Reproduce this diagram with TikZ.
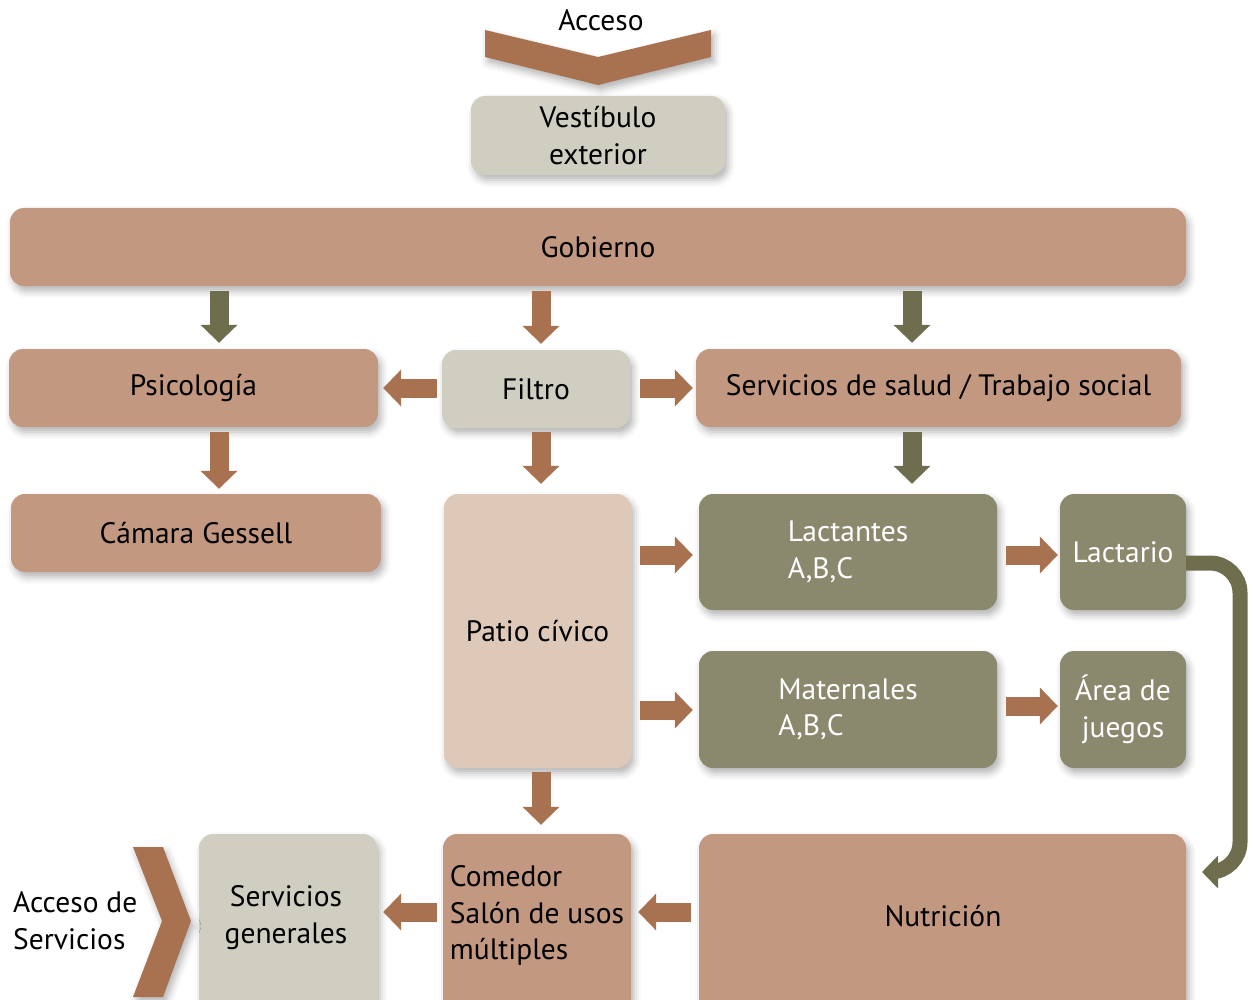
\documentclass[tikz,border=0pt]{standalone}
\usepackage{fontspec}
\setmainfont{PT Sans}
\usetikzlibrary{arrows.meta,shadows.blur}
\definecolor{boxb}{HTML}{C39880}
\definecolor{arrb}{HTML}{A87250}
\definecolor{arro}{HTML}{6E6E4E}
\definecolor{boxo}{HTML}{8A896E}
\definecolor{boxg}{HTML}{D0CEC0}
\definecolor{boxp}{HTML}{DEC8B8}
\newcommand{\fs}{\fontsize{29.5}{36.5}\selectfont}
\tikzset{
  shad/.style={blur shadow={shadow xshift=3pt,shadow yshift=-5pt,shadow blur radius=7pt,shadow opacity=30}},
  box/.style={rounded corners=14pt, fill=boxb, shad, inner sep=0pt, font=\fs, text=black},
  gbox/.style={box, fill=boxg},
  obox/.style={box, fill=boxo, text=white},
  pbox/.style={box, fill=boxp},
  lbl/.style={inner sep=0pt, font=\fs, align=left},
  blkb/.style={draw=arrb, line width=19pt, -{Triangle[width=36pt,length=18pt]}},
  blko/.style={draw=arro, line width=19pt, -{Triangle[width=36pt,length=18pt]}},
}
\begin{document}
\begin{tikzpicture}[x=1pt,y=-1pt]
\useasboundingbox (0,0) rectangle (1252,1000);
\clip (0,0) rectangle (1252,1000);
% top chevron
\fill[arrb, shad] (485,30) -- (598,57) -- (711,30) -- (711,57) -- (598,85) -- (485,57) -- cycle;
\node[lbl] (acc) at (601,20) {Acceso};
% boxes
\node[gbox, minimum width=254pt, minimum height=79pt, align=center] (ves) at (598,135.5) {Vestíbulo\\exterior};
\node[box, minimum width=1176pt, minimum height=78pt] (gob) at (598,247) {Gobierno};
\node[box, minimum width=369pt, minimum height=78pt] (psi) at (193.5,388) {Psicología};
\node[gbox, minimum width=188pt, minimum height=78pt] (fil) at (536,389) {Filtro};
\node[box, minimum width=485pt, minimum height=78pt] (ser) at (938.5,388) {Servicios de salud / Trabajo social};
\node[box, minimum width=370pt, minimum height=78pt] (cam) at (196,533) {Cámara Gessell};
\node[pbox, minimum width=187pt, minimum height=274pt] (pat) at (537.5,631) {Patio cívico};
\node[obox, minimum width=298pt, minimum height=116pt, align=left] (lac) at (848,552) {Lactantes\\A,B,C};
\node[obox, minimum width=126pt, minimum height=116pt] (lact) at (1123,552) {Lactario};
\node[obox, minimum width=298pt, minimum height=117pt, align=left] (mat) at (848,709.5) {Maternales\\A,B,C};
\node[obox, minimum width=126pt, minimum height=117pt, align=center] (are) at (1123,709.5) {Área de\\juegos};
\node[gbox, minimum width=178pt, minimum height=190pt] (sg) at (288,929) {};
\node[box, minimum width=188pt, minimum height=190pt] (com) at (537,929) {};
\node[box, minimum width=487pt, minimum height=190pt] (nut) at (942.5,929) {};
\node[lbl, align=center] (sgT) at (286,917.5) {Servicios\\generales};
\node[lbl, align=left] (comT) at (537,915.5) {Comedor\\Salón de usos\\múltiples};
\node[lbl] (nutT) at (943,916) {Nutrición};
% left chevron
\fill[arrb, shad] (133,847) -- (163,847) -- (191,921) -- (163,997) -- (133,997) -- (162,921) -- cycle;
\node[lbl, anchor=west] (accs) at (13,920.5) {Acceso de\\Servicios};
% arrows
\draw[blko, shorten <=5pt, shorten >=6pt] (gob.south -| 219,0) -- (psi.north -| 219,0);
\draw[blkb, shorten <=5pt, shorten >=6pt] (gob.south -| 541,0) -- (fil.north -| 541,0);
\draw[blko, shorten <=5pt, shorten >=6pt] (gob.south -| 912,0) -- (ser.north -| 912,0);
\draw[blkb, shorten <=5pt, shorten >=5pt] (psi.south -| 219,0) -- (cam.north -| 219,0);
\draw[blkb, shorten <=4pt, shorten >=10pt] (fil.south -| 541,0) -- (pat.north -| 541,0);
\draw[blko, shorten <=5pt, shorten >=10pt] (ser.south -| 912,0) -- (lac.north -| 912,0);
\draw[blkb, shorten <=5pt, shorten >=5pt] (fil.west |- 0,388) -- (psi.east |- 0,388);
\draw[blkb, shorten <=10pt, shorten >=3pt] (fil.east |- 0,388) -- (ser.west |- 0,388);
\draw[blkb, shorten <=9pt, shorten >=6pt] (pat.east |- 0,555) -- (lac.west |- 0,555);
\draw[blkb, shorten <=9pt, shorten >=6pt] (pat.east |- 0,710) -- (mat.west |- 0,710);
\draw[blkb, shorten <=9pt, shorten >=2pt] (lac.east |- 0,555) -- (lact.west |- 0,555);
\draw[blkb, shorten <=9pt, shorten >=2pt] (mat.east |- 0,706) -- (are.west |- 0,706);
\draw[blkb, shorten <=4pt, shorten >=9pt] (pat.south -| 541,0) -- (com.north -| 541,0);
\draw[blkb, shorten <=6pt, shorten >=6pt] (com.west |- 0,912) -- (sg.east |- 0,912);
\draw[blkb, shorten <=8pt, shorten >=7pt] (nut.west |- 0,912) -- (com.east |- 0,912);
\draw[arro, line width=15pt, rounded corners=30pt, -{Triangle[width=32pt,length=16pt]}]
  (lact.east |- 0,563) -- (1240,563) -- (1240,872) -- (1202,872);
\end{tikzpicture}
\end{document}
